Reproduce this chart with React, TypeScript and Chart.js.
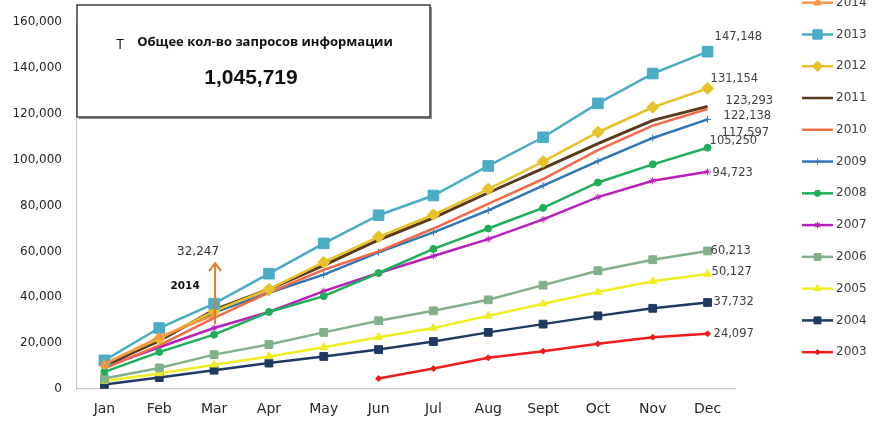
import React, { useEffect, useRef } from 'react';
import { Chart, registerables } from 'chart.js';
import { drawPoint } from 'chart.js/helpers';

Chart.register(...registerables);

const months = ['Jan', 'Feb', 'Mar', 'Apr', 'May', 'Jun', 'Jul', 'Aug', 'Sept', 'Oct', 'Nov', 'Dec'];
const years = ['2014', '2013', '2012', '2011', '2010', '2009', '2008', '2007', '2006', '2005', '2004', '2003'];

const y2014 = [10800, 22600, 32247, null, null, null, null, null, null, null, null, null];
const y2013 = [12500, 26600, 37200, 50300, 63500, 75800, 84400, 97300, 109800, 124600, 137600, 147148];
const y2012 = [11200, 22000, 34000, 43500, 55300, 66400, 76000, 87200, 99200, 112000, 122900, 131154];
const y2011 = [10300, 21000, 34500, 43500, 53900, 65000, 74600, 85600, 96200, 107000, 117200, 123293];
const y2010 = [9000, 19000, 31000, 42000, 52000, 60000, 70000, 80800, 91600, 104200, 114900, 122138];
const y2009 = [9600, 21900, 33300, 42000, 49900, 59600, 68300, 77900, 88700, 99400, 109500, 117597];
const y2008 = [7500, 16100, 23700, 33600, 40500, 50600, 61100, 70000, 79000, 90100, 98000, 105250];
const y2007 = [9600, 18200, 26600, 33600, 42700, 50600, 58000, 65400, 74000, 83700, 90800, 94723];
const y2006 = [4600, 9200, 15000, 19400, 24700, 29800, 34100, 38900, 45300, 51600, 56400, 60213];
const y2005 = [3500, 6800, 10600, 14200, 18200, 22600, 26600, 31900, 37200, 42300, 47000, 50127];
const y2004 = [2000, 5000, 8200, 11300, 14200, 17200, 20700, 24700, 28300, 31900, 35200, 37732];
const y2003 = [null, null, null, null, null, 4600, 8900, 13600, 16500, 19700, 22600, 24097];

const seriesValues = [y2014, y2013, y2012, y2011, y2010, y2009, y2008, y2007, y2006, y2005, y2004, y2003];

const yMin = 0;
const yMax = 160000;
const yStep = 20000;

const boxTitle = 'Общее кол-во запросов информации';
const boxMark = 'T';

// styles
const colors = ['#F79646', '#4BACC6', '#E8C22A', '#5B3A1C', '#F26A48', '#2E75B6', '#1FAE5A', '#B81FBB', '#82B08A', '#EEEE22', '#1F3A60', '#EE1C1C'];
const pointStyles = ['triangle', 'rect', 'rectRot', 'circle', 'circle', 'cross', 'circle', 'star', 'rect', 'triangle', 'rect', 'rectRot'];
const pointRadii = [5, 7.5, 6, 0, 0, 3.5, 3.5, 3.5, 5.5, 4.5, 5.5, 3];
const lineWidths = [2.5, 2.5, 2.5, 3, 2.5, 2.5, 2.5, 2.5, 2.5, 2.5, 2.5, 2.5];
const endLabelOffsets: [number, number][] = [
  [0, 0], [7, -15], [3, -9], [18, -5], [16, 7], [14, 14], [2, -7], [5, 1], [3, 0], [4, -2], [6, 0], [6, 0],
];

const fmt = (v: number) => v.toLocaleString('en-US');

const overlayPlugin = {
  id: 'overlay',
  afterDraw(chart: any) {
    const ctx = chart.ctx as CanvasRenderingContext2D;
    const ds = chart.data.datasets;
    ctx.save();

    // end labels
    ctx.font = '11.5px "DejaVu Sans"';
    ctx.fillStyle = '#404040';
    ctx.textBaseline = 'middle';
    ctx.textAlign = 'left';
    ds.forEach((d: any, i: number) => {
      if (i === 0) return;
      const meta = chart.getDatasetMeta(i);
      const n = d.data.length - 1;
      const pt = meta.data[n];
      const [dx, dy] = endLabelOffsets[i];
      ctx.fillText(fmt(d.data[n]), pt.x + dx, pt.y + dy);
    });

    // 2014 arrow annotation
    {
      const d = ds[0];
      let li = 0;
      d.data.forEach((v: any, k: number) => { if (v != null) li = k; });
      const pt = chart.getDatasetMeta(0).data[li];
      const x = pt.x + 1;
      const y0 = pt.y + 9;
      const y1 = pt.y - 52;
      ctx.strokeStyle = '#E37B2C';
      ctx.lineWidth = 2;
      ctx.beginPath();
      ctx.moveTo(x, y0);
      ctx.lineTo(x, y1);
      ctx.stroke();
      ctx.beginPath();
      ctx.moveTo(x - 6, y1 + 8);
      ctx.lineTo(x, y1);
      ctx.lineTo(x + 6, y1 + 8);
      ctx.stroke();
      ctx.fillStyle = '#333';
      ctx.font = '12px "DejaVu Sans"';
      ctx.textAlign = 'center';
      ctx.fillText(fmt(d.data[li]), x - 17, y1 - 11);
      ctx.font = 'bold 10.5px "DejaVu Sans"';
      ctx.fillStyle = '#111';
      ctx.fillText(d.label, x - 30, pt.y - 29);
    }

    // legend
    const lx0 = 802;
    const lx1 = 833;
    const ly0 = 2.7;
    const lstep = 31.77;
    ds.forEach((d: any, i: number) => {
      const y = ly0 + i * lstep;
      ctx.strokeStyle = colors[i];
      ctx.lineWidth = 2.5;
      ctx.beginPath();
      ctx.moveTo(lx0, y);
      ctx.lineTo(lx1, y);
      ctx.stroke();
      if (pointRadii[i] > 0) {
        ctx.fillStyle = colors[i];
        ctx.lineWidth = 1;
        drawPoint(ctx, { pointStyle: pointStyles[i], radius: pointRadii[i] * 0.85, rotation: 0, borderWidth: 1 }, (lx0 + lx1) / 2, y);
        ctx.fill();
        ctx.stroke();
      }
      ctx.fillStyle = '#404040';
      ctx.font = '12px "DejaVu Sans"';
      ctx.textAlign = 'left';
      ctx.textBaseline = 'middle';
      ctx.fillText(d.label, 836, y);
    });

    // info box
    const bx = 77, by = 5, bw = 353, bh = 112;
    ctx.fillStyle = '#fff';
    ctx.fillRect(bx, by, bw, bh);
    ctx.strokeStyle = '#888';
    ctx.lineWidth = 1.5;
    ctx.beginPath();
    ctx.moveTo(bx + bw + 1.2, by + 2);
    ctx.lineTo(bx + bw + 1.2, by + bh + 1.2);
    ctx.lineTo(bx + 2, by + bh + 1.2);
    ctx.stroke();
    ctx.strokeStyle = '#222';
    ctx.lineWidth = 1.3;
    ctx.strokeRect(bx, by, bw, bh);

    const total = seriesValues.reduce((s, arr) => {
      let last = 0;
      arr.forEach((v) => { if (v != null) last = v; });
      return s + last;
    }, 0);

    ctx.fillStyle = '#111';
    ctx.textBaseline = 'middle';
    ctx.textAlign = 'center';
    ctx.font = '14px "Open Sans"';
    ctx.fillText(boxMark, 120, 45);
    ctx.font = 'bold 13px "Open Sans"';
    ctx.fillText(boxTitle, 265, 42);
    ctx.font = 'bold 21px "Liberation Sans"';
    ctx.fillText(fmt(total), 251, 78);

    ctx.restore();
  },
};

export default function App() {
  const ref = useRef<HTMLCanvasElement | null>(null);
  useEffect(() => {
    document.body.style.margin = '0';
    const canvas = ref.current!;
    const chart = new Chart(canvas, {
      type: 'line',
      data: {
        labels: months,
        datasets: years.map((y, i) => ({
          label: y,
          data: seriesValues[i],
          borderColor: colors[i],
          backgroundColor: colors[i],
          borderWidth: lineWidths[i],
          pointStyle: pointStyles[i] as any,
          pointRadius: pointRadii[i],
          pointBorderWidth: 1,
          pointBackgroundColor: colors[i],
          pointBorderColor: colors[i],
          tension: 0,
          spanGaps: false,
        })),
      },
      options: {
        responsive: false,
        animation: false,
        devicePixelRatio: 1,
        layout: { padding: { top: 18, right: 137, left: 0, bottom: 0 } },
        plugins: { legend: { display: false }, tooltip: { enabled: false }, title: { display: false } },
        scales: {
          x: {
            offset: true,
            grid: { display: false, drawTicks: false },
            border: { display: true, color: '#C8C8C8', width: 1.2 },
            ticks: { color: '#262626', font: { family: 'DejaVu Sans', size: 14 }, padding: 12, maxRotation: 0, autoSkip: false },
            afterFit: (s: any) => { s.height = 33; },
          },
          y: {
            min: yMin,
            max: yMax,
            grid: { display: false, drawTicks: false },
            border: { display: true, color: '#C8C8C8', width: 1.2 },
            ticks: {
              stepSize: yStep,
              color: '#262626',
              font: { family: 'DejaVu Sans', size: 12 },
              padding: 15,
              callback: (v: any) => fmt(Number(v)),
            },
            afterFit: (s: any) => { s.width = 77; },
          },
        },
      },
      plugins: [overlayPlugin],
    });
    return () => chart.destroy();
  }, []);
  return (
    <div style={{ width: 872, height: 422, background: '#fff' }}>
      <canvas ref={ref} width={872} height={422} style={{ display: 'block' }} />
    </div>
  );
}
